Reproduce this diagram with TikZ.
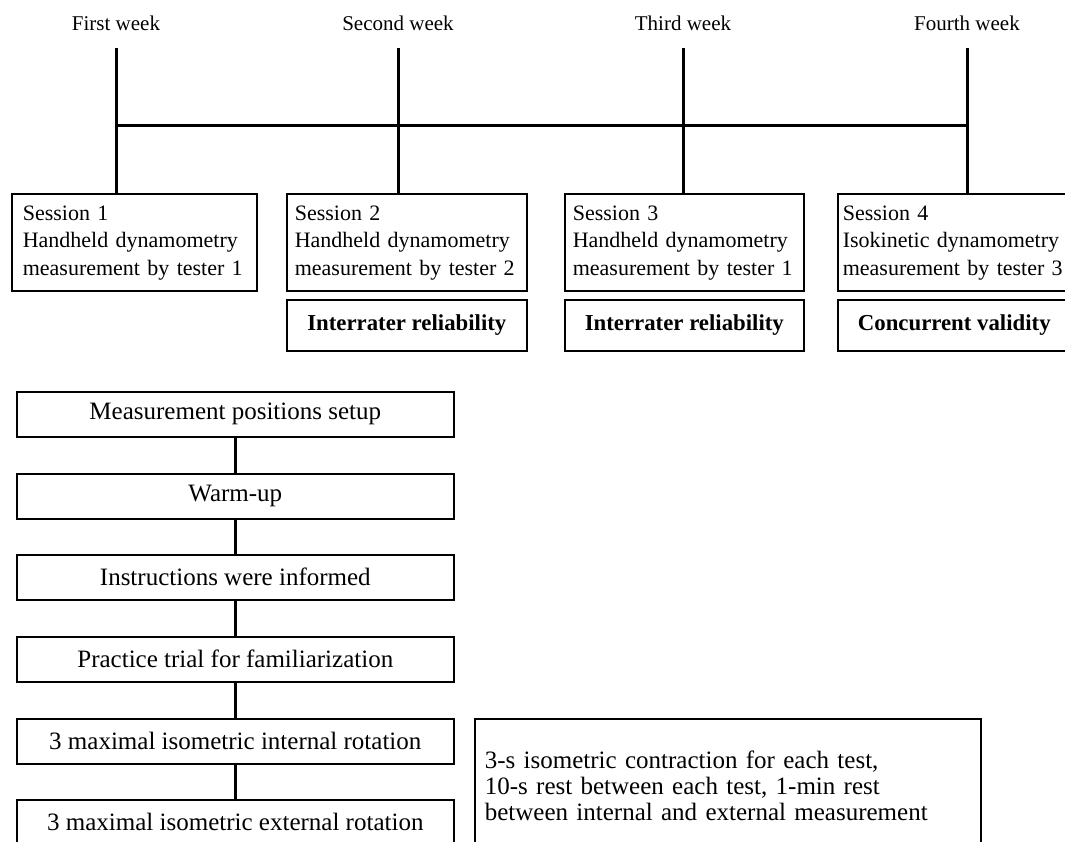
\documentclass[tikz,border=0pt]{standalone}
\usepackage{fontspec}
\setmainfont{Liberation Serif}
\newcommand{\stacklines}[1]{\begin{tabular}{@{}l@{}}#1\end{tabular}}
\begin{document}
\begin{tikzpicture}[
    x=1pt, y=-1pt,
    week/.style={font=\fontsize{21}{24}\selectfont},
    session/.style={draw, line width=1.6pt, anchor=north west, minimum height=97pt, inner xsep=8pt, align=left, font=\fontsize{22}{27.5}\selectfont},
    result/.style={draw, line width=1.6pt, anchor=north west, minimum height=51pt, font=\fontsize{22.8}{27}\selectfont\bfseries},
    stepbox/.style={draw, line width=1.6pt, anchor=north west, minimum width=437pt, minimum height=45pt, font=\fontsize{25}{28}\selectfont},
    memo/.style={draw, line width=1.6pt, anchor=north west, text width=486pt, inner xsep=10pt, minimum height=134pt, align=left, font=\fontsize{25}{26}\selectfont},
    link/.style={line width=3pt}
]
\useasboundingbox (0,0) rectangle (1065,841);
\clip (0,0) rectangle (1065,841);

% Weeks
\node[week] (w1) at (116,23) {First week};
\node[week] (w2) at (398,23) {Second week};
\node[week] (w3) at (683,23) {Third week};
\node[week] (w4) at (967,23) {Fourth week};

% Sessions
\node[session, inner xsep=11pt, text width=223pt] (s1) at (11,193) {\stacklines{Session 1\\Handheld dynamometry\\measurement by tester 1}};
\node[session, text width=224pt] (s2) at (286,193) {\stacklines{Session 2\\Handheld dynamometry\\measurement by tester 2}};
\node[session, text width=223pt] (s3) at (564,193) {\stacklines{Session 3\\Handheld dynamometry\\measurement by tester 1}};
\node[session, inner xsep=5pt, text width=224pt] (s4) at (837,193) {\stacklines{Session 4\\Isokinetic dynamometry\\measurement by tester 3}};

% Outcomes
\node[result, minimum width=240pt] (r2) at (286,299) {Interrater reliability};
\node[result, minimum width=239pt] (r3) at (564,299) {Interrater reliability};
\node[result, minimum width=233pt] (r4) at (837,299) {Concurrent validity};

% Timeline
\coordinate (bar) at (0,125);
\draw[link] (w1 |- bar) -- (w4 |- bar);
\foreach \i in {1,...,4}
  \draw[link, shorten <=14pt] (w\i.south) -- (w\i.south |- s\i.north);

% Procedure
\node[stepbox] (p1) at (16,391) {Measurement positions setup};
\node[stepbox] (p2) at (16,473) {Warm-up};
\node[stepbox] (p3) at (16,554) {Instructions were informed};
\node[stepbox] (p4) at (16,636) {Practice trial for familiarization};
\node[stepbox] (p5) at (16,718) {3 maximal isometric internal rotation};
\node[stepbox] (p6) at (16,799) {3 maximal isometric external rotation};
\foreach \a/\b in {p1/p2, p2/p3, p3/p4, p4/p5, p5/p6}
  \draw[link] (\a) -- (\b);

% Note
\node[memo] (note) at (474,718) {3-s isometric contraction for each test,\\10-s rest between each test, 1-min rest\\between internal and external measurement};
\end{tikzpicture}
\end{document}
